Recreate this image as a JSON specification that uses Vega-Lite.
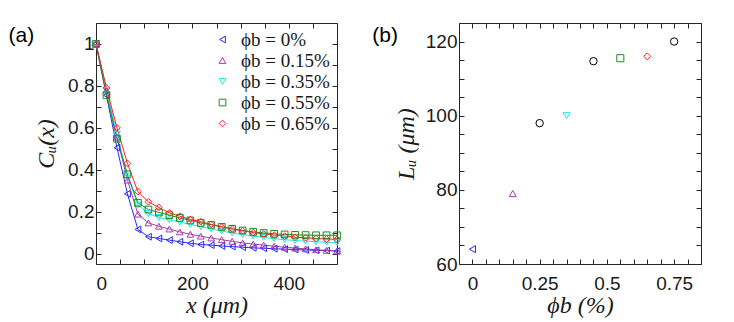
{
  "$schema": "https://vega.github.io/schema/vega-lite/v6.json",
  "padding": {"left": 8, "top": 22, "right": 5, "bottom": 2},
  "background": "white",
  "spacing": 28,
  "config": {
    "view": {"stroke": "#262626", "strokeWidth": 1},
    "axis": {
      "grid": false, "domain": false, "tickSize": -5, "tickColor": "#262626", "tickWidth": 1,
      "labelFont": "Liberation Sans", "labelFontSize": 19, "labelColor": "#1a1a1a", "labelPadding": 7,
      "titleFont": "Liberation Serif", "titleFontSize": 24, "titleFontStyle": "italic", "titleFontWeight": "normal", "titleColor": "#1a1a1a"
    }
  },
  "datasets": {
    "curves": [
      {"x":0,"C":1,"p":"0"},{"x":21.7,"C":0.755,"p":"0"},{"x":43.5,"C":0.505,"p":"0"},{"x":65.2,"C":0.285,"p":"0"},{"x":87,"C":0.115,"p":"0"},{"x":108.7,"C":0.08,"p":"0"},{"x":130.4,"C":0.072,"p":"0"},{"x":152.2,"C":0.064,"p":"0"},{"x":173.9,"C":0.056,"p":"0"},{"x":195.7,"C":0.049,"p":"0"},{"x":217.4,"C":0.043,"p":"0"},{"x":239.1,"C":0.04,"p":"0"},{"x":260.9,"C":0.036,"p":"0"},{"x":282.6,"C":0.033,"p":"0"},{"x":304.3,"C":0.03,"p":"0"},{"x":326.1,"C":0.027,"p":"0"},{"x":347.8,"C":0.025,"p":"0"},{"x":369.6,"C":0.023,"p":"0"},{"x":391.3,"C":0.021,"p":"0"},{"x":413,"C":0.019,"p":"0"},{"x":434.8,"C":0.017,"p":"0"},{"x":456.5,"C":0.015,"p":"0"},{"x":478.3,"C":0.014,"p":"0"},{"x":500,"C":0.012,"p":"0"},
      {"x":0,"C":1,"p":"0.15"},{"x":21.7,"C":0.78,"p":"0.15"},{"x":43.5,"C":0.555,"p":"0.15"},{"x":65.2,"C":0.35,"p":"0.15"},{"x":87,"C":0.188,"p":"0.15"},{"x":108.7,"C":0.146,"p":"0.15"},{"x":130.4,"C":0.13,"p":"0.15"},{"x":152.2,"C":0.117,"p":"0.15"},{"x":173.9,"C":0.103,"p":"0.15"},{"x":195.7,"C":0.092,"p":"0.15"},{"x":217.4,"C":0.083,"p":"0.15"},{"x":239.1,"C":0.074,"p":"0.15"},{"x":260.9,"C":0.066,"p":"0.15"},{"x":282.6,"C":0.058,"p":"0.15"},{"x":304.3,"C":0.051,"p":"0.15"},{"x":326.1,"C":0.045,"p":"0.15"},{"x":347.8,"C":0.04,"p":"0.15"},{"x":369.6,"C":0.035,"p":"0.15"},{"x":391.3,"C":0.03,"p":"0.15"},{"x":413,"C":0.026,"p":"0.15"},{"x":434.8,"C":0.022,"p":"0.15"},{"x":456.5,"C":0.018,"p":"0.15"},{"x":478.3,"C":0.015,"p":"0.15"},{"x":500,"C":0.012,"p":"0.15"},
      {"x":0,"C":1,"p":"0.35"},{"x":21.7,"C":0.78,"p":"0.35"},{"x":43.5,"C":0.57,"p":"0.35"},{"x":65.2,"C":0.37,"p":"0.35"},{"x":87,"C":0.232,"p":"0.35"},{"x":108.7,"C":0.19,"p":"0.35"},{"x":130.4,"C":0.172,"p":"0.35"},{"x":152.2,"C":0.16,"p":"0.35"},{"x":173.9,"C":0.15,"p":"0.35"},{"x":195.7,"C":0.139,"p":"0.35"},{"x":217.4,"C":0.128,"p":"0.35"},{"x":239.1,"C":0.117,"p":"0.35"},{"x":260.9,"C":0.107,"p":"0.35"},{"x":282.6,"C":0.098,"p":"0.35"},{"x":304.3,"C":0.09,"p":"0.35"},{"x":326.1,"C":0.083,"p":"0.35"},{"x":347.8,"C":0.077,"p":"0.35"},{"x":369.6,"C":0.071,"p":"0.35"},{"x":391.3,"C":0.066,"p":"0.35"},{"x":413,"C":0.062,"p":"0.35"},{"x":434.8,"C":0.059,"p":"0.35"},{"x":456.5,"C":0.056,"p":"0.35"},{"x":478.3,"C":0.054,"p":"0.35"},{"x":500,"C":0.052,"p":"0.35"},
      {"x":0,"C":1,"p":"0.55"},{"x":21.7,"C":0.755,"p":"0.55"},{"x":43.5,"C":0.548,"p":"0.55"},{"x":65.2,"C":0.378,"p":"0.55"},{"x":87,"C":0.242,"p":"0.55"},{"x":108.7,"C":0.21,"p":"0.55"},{"x":130.4,"C":0.196,"p":"0.55"},{"x":152.2,"C":0.183,"p":"0.55"},{"x":173.9,"C":0.17,"p":"0.55"},{"x":195.7,"C":0.158,"p":"0.55"},{"x":217.4,"C":0.146,"p":"0.55"},{"x":239.1,"C":0.137,"p":"0.55"},{"x":260.9,"C":0.127,"p":"0.55"},{"x":282.6,"C":0.118,"p":"0.55"},{"x":304.3,"C":0.11,"p":"0.55"},{"x":326.1,"C":0.103,"p":"0.55"},{"x":347.8,"C":0.098,"p":"0.55"},{"x":369.6,"C":0.094,"p":"0.55"},{"x":391.3,"C":0.091,"p":"0.55"},{"x":413,"C":0.089,"p":"0.55"},{"x":434.8,"C":0.088,"p":"0.55"},{"x":456.5,"C":0.087,"p":"0.55"},{"x":478.3,"C":0.087,"p":"0.55"},{"x":500,"C":0.087,"p":"0.55"},
      {"x":0,"C":1,"p":"0.65"},{"x":21.7,"C":0.79,"p":"0.65"},{"x":43.5,"C":0.6,"p":"0.65"},{"x":65.2,"C":0.43,"p":"0.65"},{"x":87,"C":0.295,"p":"0.65"},{"x":108.7,"C":0.247,"p":"0.65"},{"x":130.4,"C":0.22,"p":"0.65"},{"x":152.2,"C":0.194,"p":"0.65"},{"x":173.9,"C":0.178,"p":"0.65"},{"x":195.7,"C":0.163,"p":"0.65"},{"x":217.4,"C":0.152,"p":"0.65"},{"x":239.1,"C":0.139,"p":"0.65"},{"x":260.9,"C":0.127,"p":"0.65"},{"x":282.6,"C":0.117,"p":"0.65"},{"x":304.3,"C":0.108,"p":"0.65"},{"x":326.1,"C":0.1,"p":"0.65"},{"x":347.8,"C":0.094,"p":"0.65"},{"x":369.6,"C":0.088,"p":"0.65"},{"x":391.3,"C":0.083,"p":"0.65"},{"x":413,"C":0.078,"p":"0.65"},{"x":434.8,"C":0.075,"p":"0.65"},{"x":456.5,"C":0.072,"p":"0.65"},{"x":478.3,"C":0.069,"p":"0.65"},{"x":500,"C":0.068,"p":"0.65"}
    ],
    "lengths": [
      {"phi":0,"L":64,"p":"0"},
      {"phi":0.15,"L":79,"p":"0.15"},
      {"phi":0.25,"L":98,"p":"other"},
      {"phi":0.35,"L":100,"p":"0.35"},
      {"phi":0.45,"L":114.7,"p":"other"},
      {"phi":0.55,"L":115.5,"p":"0.55"},
      {"phi":0.65,"L":116,"p":"0.65"},
      {"phi":0.75,"L":120,"p":"other"}
    ]
  },
  "resolve": {"scale": {"color": "independent", "shape": "independent"}},
  "hconcat": [
    {
      "width": 241, "height": 241,
      "title": {"text": "(a)", "anchor": "start", "frame": "bounds", "orient": "top", "offset": 0, "dx": -26, "dy": 23, "font": "Liberation Sans", "fontSize": 21, "fontWeight": "normal", "color": "black"},
      "data": {"name": "curves"},
      "resolve": {"axis": {"x": "independent", "y": "independent"}},
      "layer": [
        {
          "mark": {"type": "line", "strokeWidth": 1},
          "encoding": {
            "x": {"field": "x", "type": "quantitative", "scale": {"domain": [0, 500], "nice": false, "zero": false},
                  "axis": {"orient": "bottom", "values": [0,50,100,150,200,250,300,350,400,450,500], "labelExpr": "datum.value % 200 == 0 ? datum.label : ''", "title": "x (μm)", "labelPadding": 15, "titlePadding": 0}},
            "y": {"field": "C", "type": "quantitative", "scale": {"domain": [-0.05, 1.1], "nice": false, "zero": false},
                  "axis": {"orient": "left", "values": [0,0.1,0.2,0.3,0.4,0.5,0.6,0.7,0.8,0.9,1], "labelExpr": "round(datum.value*10) % 2 == 0 ? format(datum.value, '~g') : ''", "title": "Cᵤ(x)", "titlePadding": 9}},
            "color": {"field": "p", "type": "nominal", "scale": {"domain": ["0","0.15","0.35","0.55","0.65"], "range": ["#2828ff","#a83ca8","#20e6e6","#1e8c1e","#ff2020"]}}
          }
        },
        {
          "mark": {"type": "point", "filled": false, "strokeWidth": 1, "size": 45, "opacity": 1},
          "encoding": {
            "x": {"field": "x", "type": "quantitative", "axis": {"orient": "top", "values": [0,50,100,150,200,250,300,350,400,450,500], "labels": false, "title": null}},
            "y": {"field": "C", "type": "quantitative", "axis": {"orient": "right", "values": [0,0.1,0.2,0.3,0.4,0.5,0.6,0.7,0.8,0.9,1], "labels": false, "title": null}},
            "color": {"field": "p", "type": "nominal",
                      "legend": {"title": null, "orient": "top-right", "offset": 7, "labelExpr": "'ϕb = ' + datum.label + '%'", "labelFont": "Liberation Serif", "labelFontSize": 19, "labelColor": "#1a1a1a", "labelOffset": 9, "rowPadding": 1, "symbolSize": 45, "symbolStrokeWidth": 1}},
            "shape": {"field": "p", "type": "nominal", "scale": {"domain": ["0","0.15","0.35","0.55","0.65"], "range": ["triangle-left","triangle-up","triangle-down","square","diamond"]},
                      "legend": {"title": null, "orient": "top-right", "offset": 7, "labelExpr": "'ϕb = ' + datum.label + '%'", "labelFont": "Liberation Serif", "labelFontSize": 19, "labelColor": "#1a1a1a", "labelOffset": 9, "rowPadding": 1, "symbolSize": 45, "symbolStrokeWidth": 1}}
          }
        }
      ]
    },
    {
      "width": 242, "height": 241,
      "title": {"text": "(b)", "anchor": "start", "frame": "bounds", "orient": "top", "offset": 0, "dx": -22, "dy": 23, "font": "Liberation Sans", "fontSize": 21, "fontWeight": "normal", "color": "black"},
      "data": {"name": "lengths"},
      "resolve": {"axis": {"x": "independent", "y": "independent"}},
      "layer": [
        {
          "transform": [{"filter": "datum.p != 'other'"}],
          "mark": {"type": "point", "filled": false, "strokeWidth": 1, "size": 50, "opacity": 1},
          "encoding": {
            "x": {"field": "phi", "type": "quantitative", "scale": {"domain": [-0.05, 0.85], "nice": false, "zero": false},
                  "axis": {"orient": "bottom", "values": [0,0.05,0.1,0.15,0.2,0.25,0.3,0.35,0.4,0.45,0.5,0.55,0.6,0.65,0.7,0.75,0.8,0.85], "labelExpr": "abs(datum.value*4 - round(datum.value*4)) < 0.001 ? format(datum.value, '~g') : ''", "title": "ϕb (%)", "labelPadding": 15, "titlePadding": 0}},
            "y": {"field": "L", "type": "quantitative", "scale": {"domain": [60, 125], "nice": false, "zero": false},
                  "axis": {"orient": "left", "values": [60,65,70,75,80,85,90,95,100,105,110,115,120,125], "labelExpr": "datum.value % 20 == 0 ? datum.label : ''", "title": "Lᵤ (μm)", "titlePadding": 7}},
            "color": {"field": "p", "type": "nominal", "scale": {"domain": ["0","0.15","0.35","0.55","0.65"], "range": ["#2828ff","#a83ca8","#20e6e6","#1e8c1e","#ff2020"]}, "legend": null},
            "shape": {"field": "p", "type": "nominal", "scale": {"domain": ["0","0.15","0.35","0.55","0.65"], "range": ["triangle-left","triangle-up","triangle-down","square","diamond"]}, "legend": null}
          }
        },
        {
          "transform": [{"filter": "datum.p == 'other'"}],
          "mark": {"type": "point", "filled": false, "strokeWidth": 1, "size": 55, "shape": "circle", "color": "black", "opacity": 1},
          "encoding": {
            "x": {"field": "phi", "type": "quantitative", "axis": {"orient": "top", "values": [0,0.05,0.1,0.15,0.2,0.25,0.3,0.35,0.4,0.45,0.5,0.55,0.6,0.65,0.7,0.75,0.8,0.85], "labels": false, "title": null}},
            "y": {"field": "L", "type": "quantitative", "axis": {"orient": "right", "values": [60,65,70,75,80,85,90,95,100,105,110,115,120,125], "labels": false, "title": null}}
          }
        }
      ]
    }
  ]
}
